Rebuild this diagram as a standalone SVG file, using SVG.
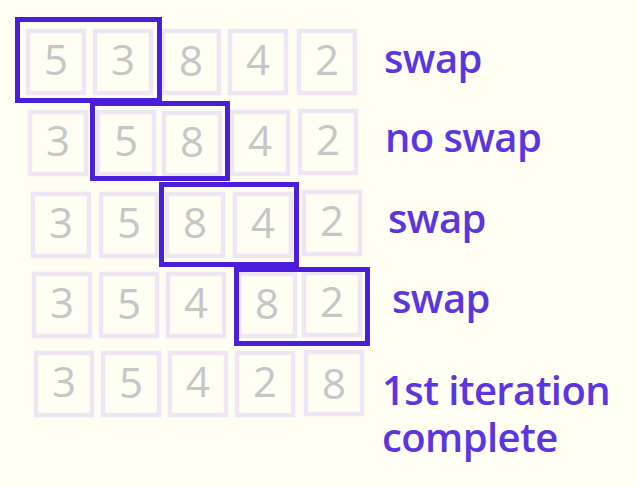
<svg xmlns="http://www.w3.org/2000/svg" width="637" height="487" viewBox="0 0 637 487">
<style>
.c{fill:none;stroke:#EFE5F3;stroke-width:4.5}
.d{font-family:"Open Sans","Noto Sans",sans-serif;font-weight:500;font-size:42px;fill:#C6C6C6;text-anchor:middle}
.h{fill:none;stroke:#4A1EDB;stroke-width:5}
.l{font-family:"Open Sans","Noto Sans",sans-serif;font-weight:600;font-size:40px;letter-spacing:-0.6px;fill:#5B36E0}
</style>
<rect width="637" height="487" fill="#FEFEF2"/>
<defs>
<rect id="cell" class="c" x="2" y="2" width="56" height="62"/>
</defs>
<g id="row1">
<g id="r1c1" transform="translate(26,29)"><use href="#cell"/><text class="d" x="30" y="46">5</text></g>
<g id="r1c2" transform="translate(93,29)"><use href="#cell"/><text class="d" x="30" y="46">3</text></g>
<g id="r1c3" transform="translate(161,29)"><use href="#cell"/><text class="d" x="30" y="47">8</text></g>
<g id="r1c4" transform="translate(228,29)"><use href="#cell"/><text class="d" x="30" y="46">4</text></g>
<g id="r1c5" transform="translate(297,29)"><use href="#cell"/><text class="d" x="30" y="46">2</text></g>
</g>
<g id="row2">
<g id="r2c1" transform="translate(28,110)"><use href="#cell"/><text class="d" x="30" y="46">3</text></g>
<g id="r2c2" transform="translate(96,110)"><use href="#cell"/><text class="d" x="30" y="46">5</text></g>
<g id="r2c3" transform="translate(162,111)"><use href="#cell"/><text class="d" x="30" y="46">8</text></g>
<g id="r2c4" transform="translate(230,110)"><use href="#cell"/><text class="d" x="30" y="46">4</text></g>
<g id="r2c5" transform="translate(298,109)"><use href="#cell"/><text class="d" x="30" y="46">2</text></g>
</g>
<g id="row3">
<g id="r3c1" transform="translate(31,192)"><use href="#cell"/><text class="d" x="30" y="46">3</text></g>
<g id="r3c2" transform="translate(99,192)"><use href="#cell"/><text class="d" x="30" y="46">5</text></g>
<g id="r3c3" transform="translate(165,192)"><use href="#cell"/><text class="d" x="30" y="46">8</text></g>
<g id="r3c4" transform="translate(233,192)"><use href="#cell"/><text class="d" x="30" y="46">4</text></g>
<g id="r3c5" transform="translate(302,190)"><use href="#cell"/><text class="d" x="30" y="46">2</text></g>
</g>
<g id="row4">
<g id="r4c1" transform="translate(32,272)"><use href="#cell"/><text class="d" x="30" y="46">3</text></g>
<g id="r4c2" transform="translate(99,272)"><use href="#cell"/><text class="d" x="30" y="47">5</text></g>
<g id="r4c3" transform="translate(166,272)"><use href="#cell"/><text class="d" x="30" y="46">4</text></g>
<g id="r4c4" transform="translate(237,272)"><use href="#cell"/><text class="d" x="30" y="47">8</text></g>
<g id="r4c5" transform="translate(302,271)"><use href="#cell"/><text class="d" x="30" y="46">2</text></g>
</g>
<g id="row5">
<g id="r5c1" transform="translate(34,351)"><use href="#cell"/><text class="d" x="30" y="46">3</text></g>
<g id="r5c2" transform="translate(101,351)"><use href="#cell"/><text class="d" x="30" y="47">5</text></g>
<g id="r5c3" transform="translate(168,351)"><use href="#cell"/><text class="d" x="30" y="46">4</text></g>
<g id="r5c4" transform="translate(235,351)"><use href="#cell"/><text class="d" x="30" y="46">2</text></g>
<g id="r5c5" transform="translate(304,350)"><use href="#cell"/><text class="d" x="30" y="49">8</text></g>
</g>
<g id="highlights">
<rect class="h" x="17.5" y="19.5" width="142" height="81"/>
<rect class="h" x="92.5" y="103.5" width="135" height="75"/>
<rect class="h" x="161.5" y="184.5" width="135" height="80"/>
<rect class="h" x="236.5" y="269.5" width="131" height="74"/>
</g>
<g id="labels">
<text class="l" x="384" y="73">swap</text>
<text class="l" x="385" y="152">no swap</text>
<text class="l" x="388" y="233">swap</text>
<text class="l" x="392" y="313">swap</text>
<text class="l" x="382" y="405">1st iteration</text>
<text class="l" x="382" y="452">complete</text>
</g>
</svg>
